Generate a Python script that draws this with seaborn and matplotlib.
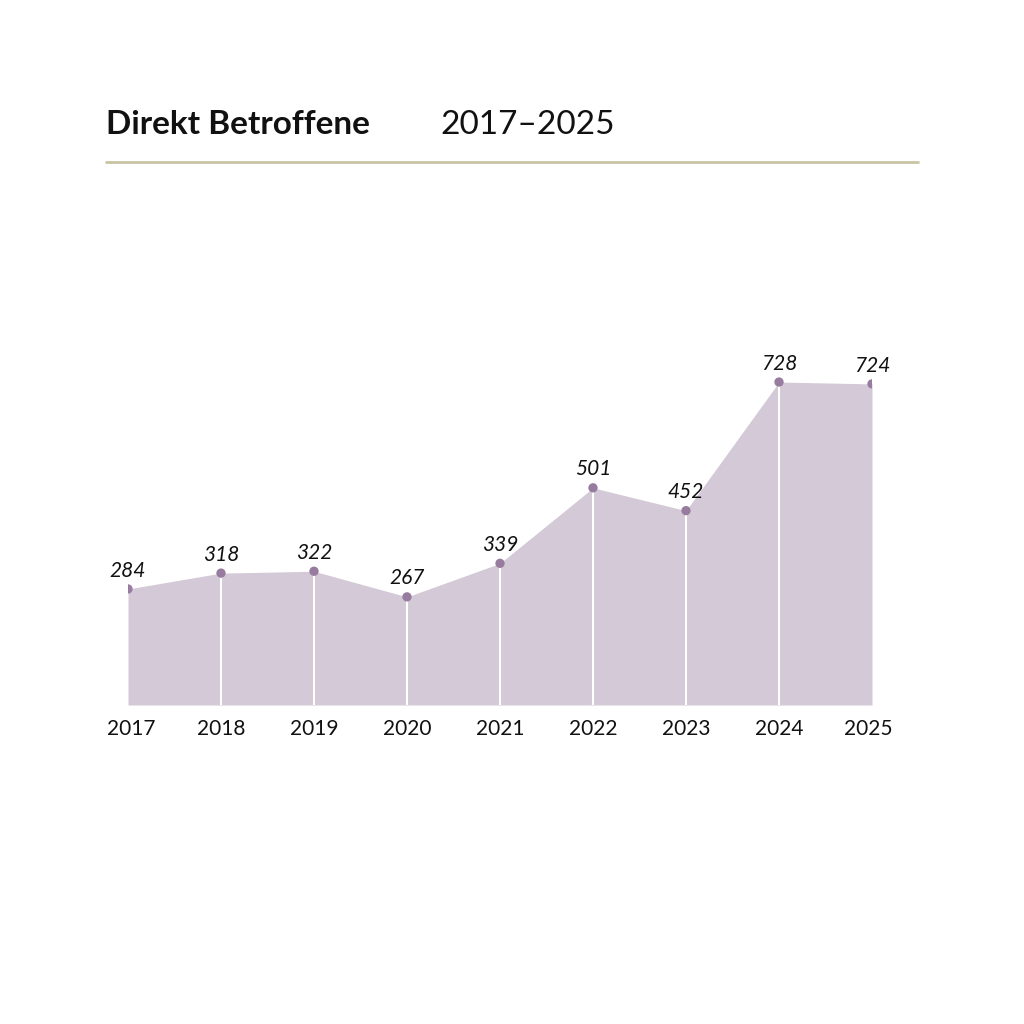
import matplotlib
matplotlib.use("Agg")
import matplotlib.pyplot as plt
import seaborn as sns
import pandas as pd

years = [2017, 2018, 2019, 2020, 2021, 2022, 2023, 2024, 2025]
values = [284, 318, 322, 267, 339, 501, 452, 728, 724]
labels = ["284", "318", "322", "267", "339", "501", "452", "728", "724"]

sns.set_theme(style="white")
plt.rcParams['font.family'] = ['Lato', 'DejaVu Sans']

df = pd.DataFrame({"year": years, "value": values})
fig = plt.figure(figsize=(10.24, 10.24), dpi=100)
ax = fig.add_axes([128/1024, 1-705/1024, (872-128)/1024, (705-300)/1024])
ymin, ymax = 35, 904
ax.fill_between(df["year"], ymin, df["value"], color="#d4c9d6", lw=0)
for y, v in zip(years[1:-1], values[1:-1]):
    ax.plot([y, y], [ymin, v], color="white", lw=1.5)
sns.scatterplot(data=df, x="year", y="value", ax=ax, color="#987c9f", s=45, edgecolor="none", zorder=3)
for y, v, t in zip(years, values, labels):
    ax.text(y, v + 18, t, ha="center", va="bottom", fontsize=15, style="italic", color="#111")
ax.set_xlim(2017, 2025)
ax.set_ylim(ymin, ymax)
ax.axis("off")
for y in years:
    ax.text(y + (0.04 if y == 2017 else (-0.04 if y == 2025 else 0)), ymin - 30, str(y),
            ha="center", va="top", fontsize=15, color="#111")

fig.text(106/1024, 1-125/1024, "Direkt Betroffene", fontsize=24, fontweight="bold", va="center", ha="left", color="#111")
fig.text(440/1024, 1-125/1024, "2017–2025", fontsize=24, va="center", ha="left", color="#111")
fig.add_artist(plt.Line2D([106/1024, 918/1024], [1-162/1024]*2, color="#c9c5a3", lw=2))
fig.savefig("out.png", dpi=100, facecolor="white")
